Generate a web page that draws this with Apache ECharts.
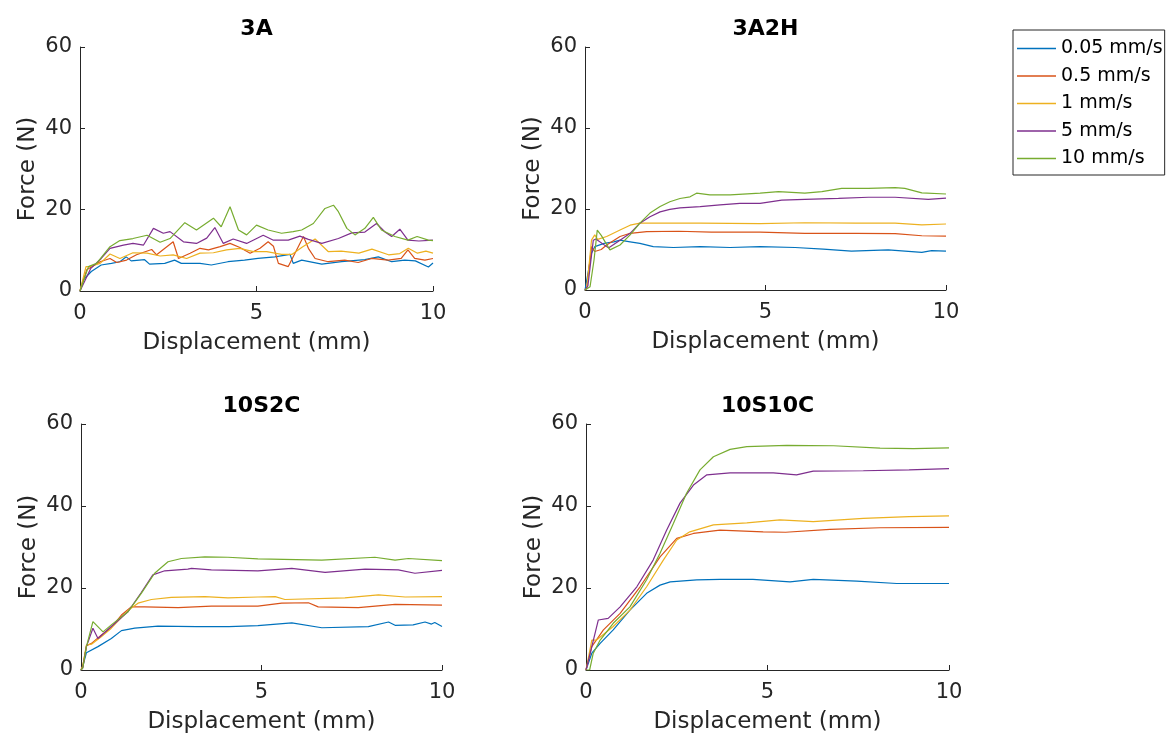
<!DOCTYPE html>
<html>
<head>
<meta charset="utf-8">
<title>Force vs displacement</title>
<script src="https://cdn.jsdelivr.net/npm/echarts@6/dist/echarts.min.js"></script>
<style>
    html, body {margin: 0; padding: 0; background: #fff;}
    #main {width: 1166px; height: 736px;}
</style>
</head>
<body>
<div id="main"></div>
<script>
// speeds (legend names) and MATLAB default line colours
const speeds = ['0.05 mm/s', '0.5 mm/s', '1 mm/s', '5 mm/s', '10 mm/s'];
const colors = ['#0072BD', '#D95319', '#EDB120', '#7E2F8E', '#77AC30'];
const titles = ['3A', '3A2H', '10S2C', '10S10C'];
const xTicks = [0, 5, 10];
const yTicks = [0, 20, 40, 60];

// [displacement (mm), force (N)]
// --- 3A ---
const a3_005 = [[0,0],[0.09,2.7],[0.32,4.8],[0.6,6.4],[0.89,6.8],[1.13,7.2],[1.31,8.4],[1.45,7.4],[1.83,7.7],[1.97,6.6],[2.4,6.8],[2.68,7.6],[2.87,6.8],[3.4,6.8],[3.72,6.4],[4.19,7.2],[4.66,7.6],[5.04,8],[5.52,8.4],[5.95,9],[6.04,6.8],[6.28,7.6],[6.85,6.6],[7.41,7.2],[8.07,7.7],[8.45,8.4],[8.83,7.2],[9.2,7.6],[9.5,7.4],[9.87,5.9],[10,6.9]];
const a3_05 = [[0,0],[0.19,5.2],[0.57,7.2],[0.85,8],[1.04,7],[1.32,7.6],[1.6,8.9],[2.03,10.2],[2.17,8.9],[2.46,10.9],[2.64,12.1],[2.79,8],[3.12,9.3],[3.4,10.5],[3.64,10.1],[3.97,10.9],[4.25,11.7],[4.53,10.7],[4.82,9.3],[5.1,10.5],[5.33,12.1],[5.48,11],[5.62,6.8],[5.9,6],[6.04,8.4],[6.33,13.4],[6.47,10.5],[6.66,8],[7.03,7.2],[7.5,7.6],[7.88,7],[8.26,8],[8.73,7.6],[9.1,8],[9.29,10.1],[9.48,8],[9.77,7.6],[10,8]];
const a3_1 = [[0,0],[0.17,6],[0.26,6],[0.57,6.8],[0.85,9.1],[1.13,8],[1.5,9.4],[1.9,9.3],[2.27,8.6],[2.64,8.9],[3.02,8],[3.4,9.3],[3.78,9.4],[4.15,10.1],[4.53,10.5],[4.91,9.7],[5.29,9.7],[5.71,9],[6.0,9],[6.3,10.8],[6.66,12.8],[7.03,9.7],[7.4,9.8],[7.9,9.3],[8.27,10.3],[8.74,8.9],[9.06,9.2],[9.3,10.5],[9.56,9.3],[9.8,9.8],[10,9.3]];
const a3_5 = [[0,0],[0.3,5.5],[0.6,8],[0.85,10.5],[1.23,11.3],[1.5,11.7],[1.8,11.3],[2.08,15.4],[2.36,14.2],[2.55,14.6],[2.93,12.1],[3.3,11.7],[3.59,13],[3.82,15.6],[4.06,11.7],[4.34,12.8],[4.72,11.7],[5.19,13.7],[5.48,12.5],[5.9,12.5],[6.23,13.5],[6.47,12.7],[6.85,11.7],[7.32,12.9],[7.7,14.3],[8.07,14.5],[8.4,16.6],[8.64,14.5],[8.83,13.4],[9.06,15.2],[9.29,12.5],[9.6,12.3],[10,12.5]];
const a3_10 = [[0,0],[0.24,6],[0.47,6.8],[0.85,10.9],[1.13,12.4],[1.5,12.9],[1.9,13.7],[2.27,12],[2.55,12.9],[2.97,16.8],[3.3,15],[3.78,17.9],[4.0,15.8],[4.25,20.7],[4.49,15],[4.72,13.8],[5.0,16.2],[5.33,15],[5.71,14.2],[6.04,14.6],[6.28,15],[6.61,16.6],[6.94,20.3],[7.18,21.1],[7.32,19.5],[7.56,15.4],[7.79,13.8],[8.07,15.4],[8.31,18.1],[8.54,15],[8.92,13.4],[9.29,12.5],[9.55,13.4],[9.87,12.5],[10,12.4]];

// --- 3A2H ---
const h_005 = [[0,0],[0.05,0],[0.18,9.1],[0.27,10.7],[0.53,11.5],[0.8,11.9],[0.97,12.3],[1.25,11.9],[1.52,11.5],[1.89,10.7],[2.45,10.5],[3.19,10.7],[4.02,10.5],[4.85,10.7],[5.82,10.5],[6.6,10.1],[7.38,9.6],[8.4,9.9],[9.33,9.3],[9.6,9.7],[10,9.6]];
const h_05 = [[0,0],[0.05,0.5],[0.18,10.7],[0.27,9.5],[0.45,10],[0.6,11.1],[0.97,13.2],[1.25,14],[1.71,14.4],[2.6,14.5],[3.5,14.3],[4.85,14.3],[6.09,14],[7.5,14],[8.59,13.9],[9.33,13.4],[10,13.3]];
const h_1 = [[0,0],[0.05,0.5],[0.18,12.3],[0.27,13.6],[0.35,12.5],[0.6,13.2],[0.97,14.8],[1.25,16],[1.52,16.5],[2.08,16.5],[3.19,16.5],[4.85,16.4],[6.09,16.6],[7.5,16.5],[8.59,16.5],[9.33,16.1],[10,16.3]];
const h_5 = [[0,0],[0.08,1],[0.23,12.3],[0.3,12.6],[0.65,10.4],[0.97,12.3],[1.25,14],[1.52,16.5],[1.8,18.1],[2.08,19.3],[2.35,19.9],[2.63,20.3],[3.19,20.6],[3.74,21],[4.29,21.4],[4.85,21.4],[5.45,22.2],[6.09,22.4],[7.02,22.6],[7.85,22.9],[8.59,22.9],[9.51,22.4],[10,22.7]];
const h_10 = [[0,0],[0.14,0.8],[0.25,7.4],[0.34,14.8],[0.45,13.5],[0.69,9.9],[0.97,11.1],[1.25,13.6],[1.52,16.5],[1.8,19],[2.08,20.6],[2.35,21.8],[2.63,22.6],[2.91,23],[3.09,23.9],[3.46,23.5],[4.02,23.5],[4.85,23.9],[5.36,24.3],[6.09,23.9],[6.56,24.3],[7.11,25.1],[7.85,25.1],[8.59,25.3],[8.86,25.1],[9.33,24],[10,23.7]];

// --- 10S2C ---
const s2_005 = [[0,0],[0.05,1],[0.15,4.2],[0.47,5.7],[0.84,7.7],[1.12,9.6],[1.49,10.2],[2.13,10.7],[3.2,10.6],[4.1,10.6],[4.9,10.8],[5.84,11.5],[6.67,10.3],[7.96,10.6],[8.52,11.7],[8.7,10.9],[9.2,11],[9.53,11.7],[9.71,11.2],[9.8,11.6],[10,10.6]];
const s2_05 = [[0,0],[0.05,1],[0.15,5.9],[0.29,6.5],[0.56,8.5],[0.84,10.4],[1.12,13.4],[1.39,15.4],[1.76,15.4],[2.69,15.2],[3.61,15.6],[4.9,15.6],[5.56,16.3],[6.3,16.4],[6.57,15.4],[7.68,15.2],[8.7,16],[10,15.8]];
const s2_1 = [[0,0],[0.05,1],[0.15,6.1],[0.29,6.3],[0.56,8.1],[0.84,10.2],[1.3,14.5],[1.58,16.3],[1.95,17.2],[2.5,17.7],[3.43,17.9],[4.07,17.6],[4.9,17.8],[5.38,17.9],[5.65,17.2],[7.31,17.6],[8.24,18.3],[8.98,17.8],[10,17.9]];
const s2_5 = [[0,0],[0.05,0.5],[0.15,5.7],[0.33,10.2],[0.47,7.7],[0.84,10.6],[1.3,14.2],[1.67,18.9],[1.99,23.2],[2.32,24.2],[2.96,24.6],[3.06,24.8],[3.61,24.4],[4.9,24.2],[5.84,24.8],[6.76,23.8],[7.87,24.6],[8.79,24.4],[9.25,23.6],[10,24.3]];
const s2_10 = [[0,0],[0.05,0.5],[0.15,5.7],[0.33,11.8],[0.61,9.3],[0.84,11],[1.3,14.2],[1.67,18.7],[2.04,23.6],[2.41,26.4],[2.78,27.2],[3.43,27.6],[4.07,27.5],[4.9,27.1],[6.67,26.8],[8.14,27.5],[8.7,26.8],[9.07,27.2],[10,26.7]];

// --- 10S10C ---
const s10_005 = [[0,0],[0.16,4.1],[0.39,6.5],[0.75,9.8],[1.21,14.6],[1.67,18.7],[2.04,20.7],[2.32,21.5],[3.05,22],[3.69,22.1],[4.6,22.1],[5.62,21.5],[6.26,22.1],[7.46,21.7],[8.56,21.1],[10,21.1]];
const s10_05 = [[0,0],[0.16,5.7],[0.48,9.8],[0.94,13.8],[1.49,20.3],[2.04,27.6],[2.5,32.1],[2.96,33.3],[3.69,34.1],[4.88,33.7],[5.5,33.6],[6.72,34.3],[8.1,34.7],[10,34.8]];
const s10_1 = [[0,0],[0.16,7.3],[0.29,7.3],[0.75,10.6],[1.21,14.6],[1.67,20.3],[2.13,26.8],[2.5,31.7],[2.86,33.7],[3.51,35.4],[4.43,35.9],[5.34,36.6],[6.26,36.2],[7.64,37],[8.9,37.4],[10,37.6]];
const s10_5 = [[0,0],[0.16,5.7],[0.34,12.2],[0.61,12.6],[0.94,15.4],[1.4,20.3],[1.85,26.8],[2.22,34.1],[2.59,40.7],[2.96,45.1],[3.33,47.6],[3.97,48.1],[5.16,48.1],[5.8,47.6],[6.26,48.5],[7.64,48.6],[8.9,48.8],[10,49.1]];
const s10_10 = [[0,0],[0.1,0],[0.2,4.1],[0.39,7.3],[0.75,11.4],[1.21,15.4],[1.67,22],[2.04,28.5],[2.41,35.8],[2.77,43.1],[3.14,48.8],[3.51,52],[3.97,53.8],[4.43,54.5],[5.53,54.8],[6.82,54.7],[8.1,54.1],[9.02,54],[10,54.2]];

const panels = [
    [a3_005, a3_05, a3_1, a3_5, a3_10],
    [h_005, h_05, h_1, h_5, h_10],
    [s2_005, s2_05, s2_1, s2_5, s2_10],
    [s10_005, s10_05, s10_1, s10_5, s10_10],
];

const boxes = [
    {left: 80, top: 47, width: 353, height: 244},
    {left: 585, top: 47, width: 361, height: 243},
    {left: 81, top: 424, width: 361, height: 246},
    {left: 586, top: 424, width: 363, height: 246},
];

const FONT = 'DejaVu Sans';
const INK = '#262626';

const axisCommon = {
    axisLine: {show: true, onZero: false, lineStyle: {color: INK, width: 1}},
    axisTick: {show: true, inside: true, length: 5, lineStyle: {color: INK}},
    splitLine: {show: false},
};

const grid = boxes.map(b => Object.assign({containLabel: false}, b));

const xAxis = boxes.map((b, i) => Object.assign({
    gridIndex: i,
    type: 'value',
    min: xTicks[0],
    max: xTicks[xTicks.length - 1],
    interval: xTicks[1] - xTicks[0],
    name: 'Displacement (mm)',
    nameLocation: 'middle',
    nameGap: 41,
    nameTextStyle: {fontFamily: FONT, fontSize: 23, color: INK},
    axisLabel: {margin: 12, fontFamily: FONT, fontSize: 21, color: INK},
}, axisCommon));

const yAxis = boxes.map((b, i) => Object.assign({
    gridIndex: i,
    type: 'value',
    min: yTicks[0],
    max: yTicks[yTicks.length - 1],
    interval: yTicks[1] - yTicks[0],
    name: 'Force (N)',
    nameLocation: 'middle',
    nameGap: 40,
    nameTextStyle: {fontFamily: FONT, fontSize: 23, color: INK},
    axisLabel: {margin: 8, fontFamily: FONT, fontSize: 21, color: INK},
}, axisCommon));

const title = titles.map((t, i) => ({
    text: t,
    left: boxes[i].left + boxes[i].width / 2,
    top: boxes[i].top - 29,
    textAlign: 'center',
    padding: 0,
    textStyle: {fontFamily: FONT, fontSize: 22, fontWeight: 'bold', color: '#000'},
}));

const series = [];
panels.forEach((curves, gi) => {
    curves.forEach((data, si) => {
        series.push({
            name: speeds[si],
            type: 'line',
            xAxisIndex: gi,
            yAxisIndex: gi,
            data: data,
            symbol: 'none',
            smooth: false,
            lineStyle: {width: 1.2, color: colors[si]},
            itemStyle: {color: colors[si]},
            z: 2 + si,
        });
    });
});

const myChart = echarts.init(document.getElementById('main'));
myChart.setOption({
    backgroundColor: '#fff',
    animation: false,
    title: title,
    legend: {
        data: speeds.map(s => ({name: s, icon: 'rect'})),
        orient: 'vertical',
        left: 1013,
        top: 30,
        padding: [9, 2, 7, 4],
        itemWidth: 39,
        itemHeight: 1.5,
        itemGap: 8.5,
        borderColor: INK,
        borderWidth: 1,
        textStyle: {fontFamily: FONT, fontSize: 19, color: '#000', lineHeight: 19},
    },
    grid: grid,
    xAxis: xAxis,
    yAxis: yAxis,
    series: series,
});
</script>
</body>
</html>
